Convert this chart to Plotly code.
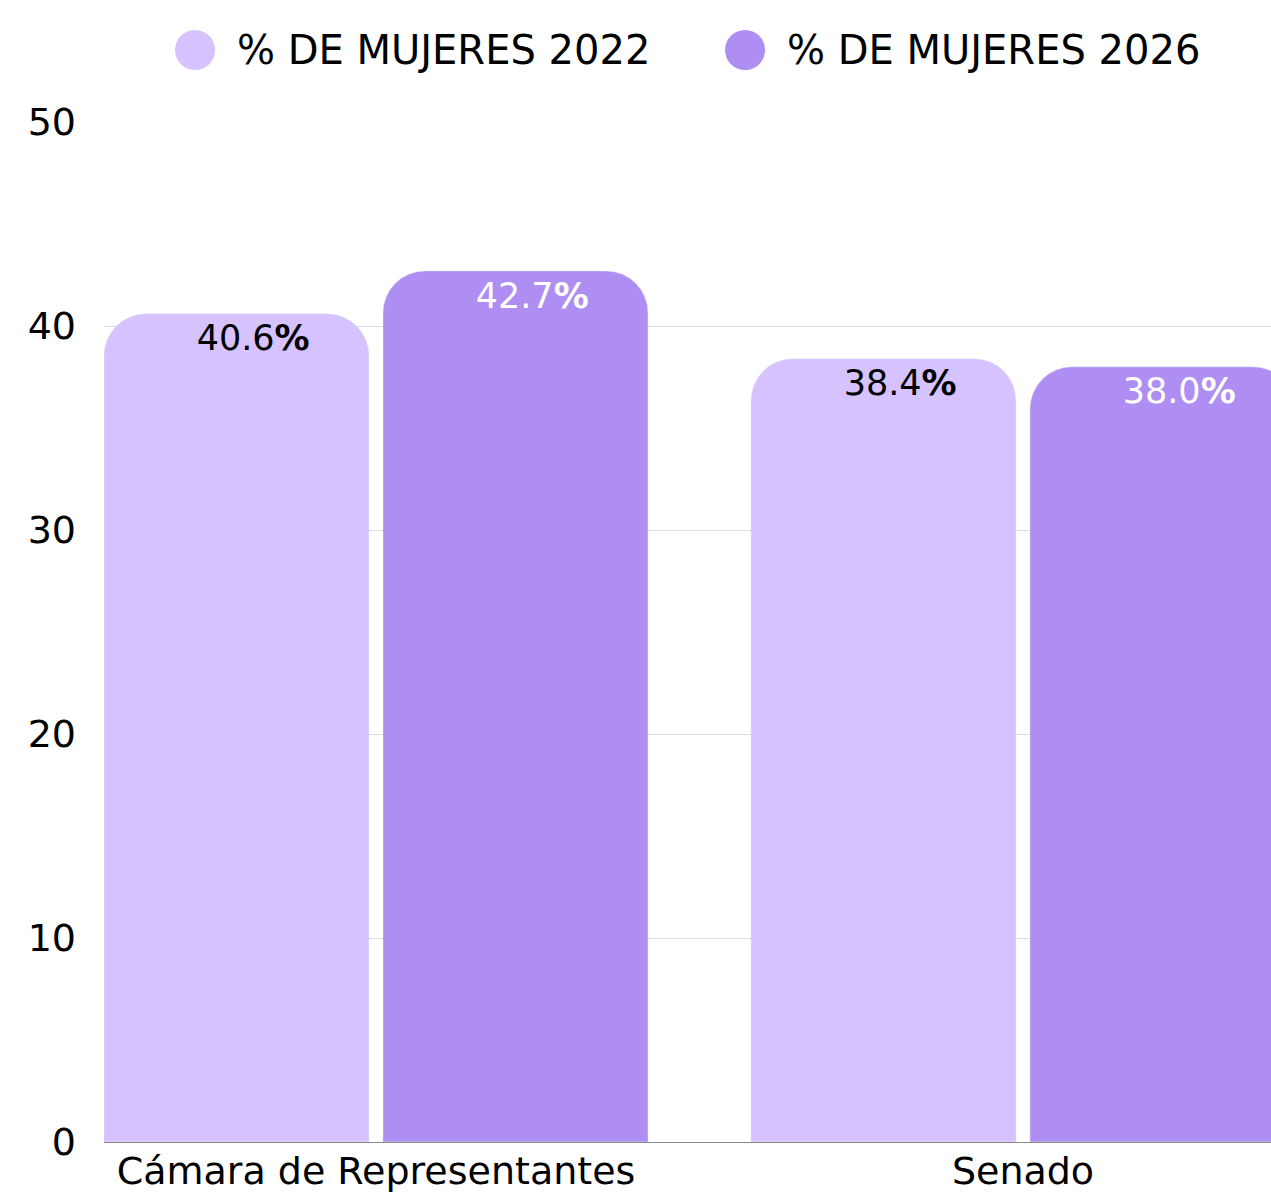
import plotly.graph_objects as go

categories = ["Cámara de Representantes", "Senado"]
series_names = ["% DE MUJERES 2022", "% DE MUJERES 2026"]
values_2022 = [40.6, 38.4]
values_2026 = [42.7, 38.0]
y_ticks = [0, 10, 20, 30, 40, 50]

colors = ["#D5C2FE", "#AE8EF3"]
text_colors = ["#000000", "#FFFFFF"]
FONT = "DejaVu Sans"

fig = go.Figure()
groups = ["g2022", "g2026"]
for name, vals, col, grp in zip(series_names, [values_2022, values_2026], colors, groups):
    fig.add_trace(go.Bar(
        x=categories, y=vals, name=name, marker_color=col,
        offsetgroup=grp, showlegend=False, hoverinfo="skip",
    ))
# value labels near bar tops, grouped like the bars
for vals, tcol, grp in zip([values_2022, values_2026], text_colors, groups):
    fig.add_trace(go.Scatter(
        x=categories, y=vals, mode="markers+text", offsetgroup=grp,
        marker=dict(size=15, color="rgba(0,0,0,0)"),
        text=["\u00a0\u00a0\u00a0%.1f<b>%%</b>" % v for v in vals],
        textposition="bottom center",
        textfont=dict(color=tcol, size=35, family=FONT),
        showlegend=False, hoverinfo="skip", cliponaxis=False,
    ))

# manual legend (circles + labels) above plot
leg_circle_x = [0.078, 0.5493]
leg_text_x = [0.1123, 0.5835]
for cx, tx, col, name in zip(leg_circle_x, leg_text_x, colors, series_names):
    fig.add_shape(type="circle", xref="paper", yref="paper",
                  xsizemode="pixel", ysizemode="pixel",
                  xanchor=cx, yanchor=1.0706,
                  x0=-20, x1=20, y0=-20, y1=20,
                  fillcolor=col, line_width=0)
    fig.add_annotation(x=tx, y=1.0706, xref="paper", yref="paper",
                       text=name, showarrow=False, xanchor="left", yanchor="middle",
                       font=dict(size=40, color="#000000", family=FONT))

fig.update_layout(
    width=1271, height=1196,
    margin=dict(l=104, r=0, t=122, b=54),
    paper_bgcolor="white", plot_bgcolor="white",
    barmode="group", bargap=0.1375, bargroupgap=0.05,
    scattermode="group", scattergap=0.1375,
    barcornerradius=42,
    font=dict(family=FONT, size=38, color="#000000"),
    showlegend=False,
)
fig.update_xaxes(range=[-0.4204, 1.3833], showgrid=False, showline=False,
                 tickfont=dict(size=38, family=FONT, color="#000000"),
                 ticklabelstandoff=3, automargin=False, ticks="")
fig.update_yaxes(range=[0, 50], tickvals=y_ticks, showgrid=True,
                 gridcolor="#DDDDDD", gridwidth=1,
                 zeroline=True, zerolinecolor="#888888", zerolinewidth=1,
                 tickfont=dict(size=38, family=FONT, color="#000000"),
                 ticklabelstandoff=27, automargin=False, showline=False)

fig.write_html("out.html")
